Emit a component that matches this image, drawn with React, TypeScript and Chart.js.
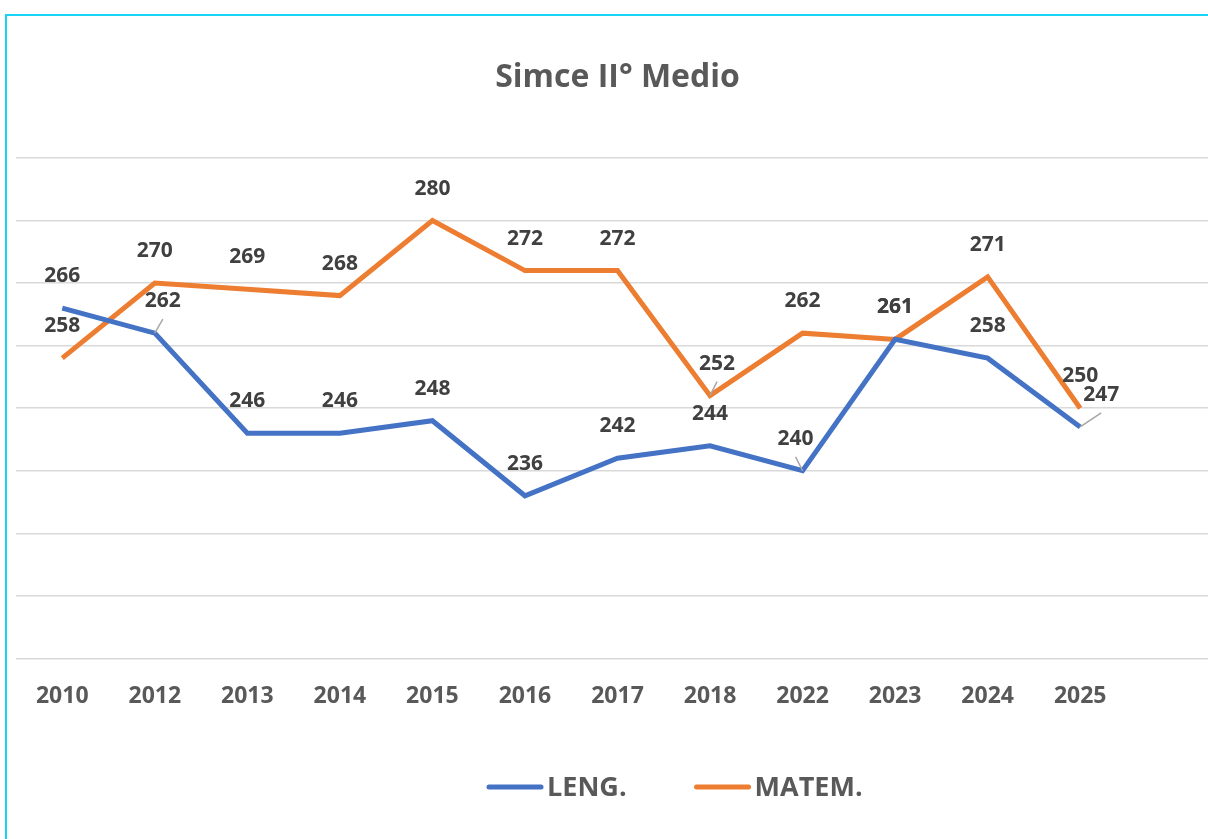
import React, { useEffect, useRef } from "react";
import { Chart, registerables } from "chart.js";

Chart.register(...registerables);

// ---- data ----
const years = ["2010", "2012", "2013", "2014", "2015", "2016", "2017", "2018", "2022", "2023", "2024", "2025"];
const leng = [266, 262, 246, 246, 248, 236, 242, 244, 240, 261, 258, 247];
const matem = [258, 270, 269, 268, 280, 272, 272, 252, 262, 261, 271, 250];
const seriesNames = ["LENG.", "MATEM."];
const seriesColors = ["#4472C4", "#ED7D31"];
const yMin = 210;
const yMax = 290;
const yStep = 10;
const chartTitle = "Simce II° Medio";

// labels that were nudged sideways (with a leader line) : [series, index, dx]
const nudgedLabels: [number, number, number][] = [
  [0, 1, 8],
  [1, 7, 7],
  [0, 8, -7],
  [0, 11, 21],
];

const FONT = "'Open Sans', Lato, Arial, sans-serif";

const dataLabelsPlugin = {
  id: "dataLabelsCustom",
  afterDatasetsDraw(chart: any) {
    const ctx = chart.ctx;
    ctx.save();
    ctx.font = `bold 21px ${FONT}`;
    ctx.textAlign = "center";
    ctx.textBaseline = "middle";
    chart.data.datasets.forEach((ds: any, i: number) => {
      const meta = chart.getDatasetMeta(i);
      meta.data.forEach((pt: any, j: number) => {
        const v = ds.data[j];
        if (v == null) return;
        const nudge = nudgedLabels.find((n) => n[0] === i && n[1] === j);
        const dx = nudge ? nudge[2] : 0;
        const lx = pt.x + dx;
        const ly = pt.y - 32;
        if (nudge) {
          ctx.strokeStyle = "#A6A6A6";
          ctx.lineWidth = 1.5;
          ctx.beginPath();
          ctx.moveTo(pt.x, pt.y);
          ctx.lineTo(lx, ly + 18);
          ctx.stroke();
        }
        ctx.fillStyle = "#404040";
        ctx.fillText(String(v), lx, ly);
      });
    });
    ctx.restore();
  },
};

const legendPlugin = {
  id: "legendCustom",
  afterDraw(chart: any) {
    const ctx = chart.ctx;
    ctx.save();
    ctx.font = `bold 27px ${FONT}`;
    ctx.textBaseline = "middle";
    ctx.textAlign = "left";
    let x = 489;
    const y = 787;
    chart.data.datasets.forEach((ds: any) => {
      ctx.strokeStyle = ds.borderColor;
      ctx.lineWidth = 5;
      ctx.lineCap = "round";
      ctx.beginPath();
      ctx.moveTo(x, y);
      ctx.lineTo(x + 52, y);
      ctx.stroke();
      ctx.fillStyle = "#595959";
      ctx.fillText(ds.label, x + 58, y + 1);
      const w = ctx.measureText(ds.label).width;
      x = x + 58 + w + 70;
    });
    ctx.restore();
  },
};

export default function App() {
  const canvasRef = useRef<HTMLCanvasElement | null>(null);

  useEffect(() => {
    document.body.style.margin = "0";
    const canvas = canvasRef.current;
    if (!canvas) return;
    const chart = new Chart(canvas, {
      type: "line",
      data: {
        labels: [...years, ""],
        datasets: [
          {
            label: seriesNames[0],
            data: leng,
            borderColor: seriesColors[0],
            backgroundColor: seriesColors[0],
            borderWidth: 5,
            pointRadius: 0,
            tension: 0,
          },
          {
            label: seriesNames[1],
            data: matem,
            borderColor: seriesColors[1],
            backgroundColor: seriesColors[1],
            borderWidth: 5,
            pointRadius: 0,
            tension: 0,
          },
        ],
      },
      options: {
        responsive: false,
        animation: false,
        layout: { padding: { left: 16, right: 7, top: 0, bottom: 105 } },
        plugins: {
          legend: { display: false },
          tooltip: { enabled: false },
          title: {
            display: true,
            text: chartTitle,
            color: "#595959",
            font: { family: FONT, size: 32, weight: "bold" },
            padding: { top: 59, bottom: 60.6 },
          },
        },
        scales: {
          x: {
            offset: true,
            grid: { display: false, drawTicks: false },
            border: { display: false },
            ticks: {
              color: "#595959",
              font: { family: FONT, size: 23, weight: "bold" },
              padding: 24,
              maxRotation: 0,
              autoSkip: false,
            },
          },
          y: {
            min: yMin,
            max: yMax,
            ticks: { display: false, stepSize: yStep },
            grid: { color: "#D9D9D9", lineWidth: 1.5, drawTicks: false },
            border: { display: false },
          },
        },
      },
      plugins: [dataLabelsPlugin, legendPlugin],
    });
    return () => chart.destroy();
  }, []);

  return (
    <div
      style={{
        position: "fixed",
        left: 0,
        top: 0,
        width: 1208,
        height: 839,
        overflow: "hidden",
        background: "#ffffff",
      }}
    >
      <canvas
        ref={canvasRef}
        width={1226}
        height={839}
        style={{ position: "absolute", left: 0, top: 0, width: 1226, height: 839 }}
      />
      <div
        style={{
          position: "absolute",
          left: 5,
          top: 14,
          width: 1300,
          height: 900,
          borderLeft: "2px solid #17D4F7",
          borderTop: "2px solid #17D4F7",
          pointerEvents: "none",
        }}
      />
    </div>
  );
}
